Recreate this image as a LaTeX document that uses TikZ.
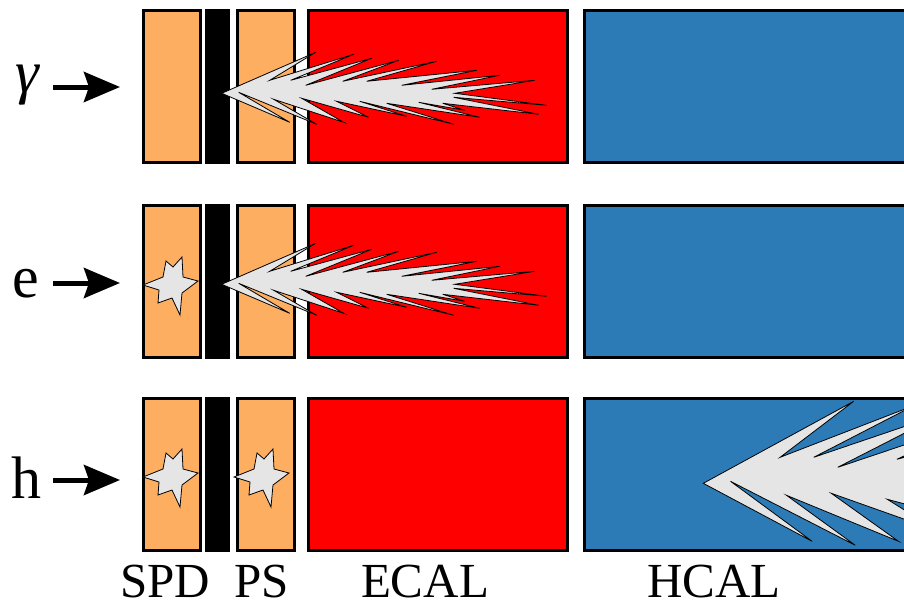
\documentclass[tikz,border=0pt]{standalone}
\usepackage{fontspec}
\setmainfont{Liberation Serif}
\usetikzlibrary{arrows.meta,positioning}

\definecolor{padorange}{HTML}{FDAE61}
\definecolor{hcalblue}{HTML}{2C7BB6}

\begin{document}
\begin{tikzpicture}[
    x=1pt, y=-1pt,
    det/.style={rectangle, draw, line width=3pt, inner sep=0pt, minimum height=152pt},
    pad/.style={det, fill=padorange, minimum width=57pt},
    lead/.style={rectangle, fill=black, inner sep=0pt, minimum width=25pt, minimum height=155pt},
    ecal/.style={det, fill=red, minimum width=259pt},
    hcal/.style={det, fill=hcalblue, minimum width=340pt},
    particle/.style={font=\fontsize{60}{60}\selectfont, inner sep=0pt},
    detname/.style={font=\fontsize{49}{49}\selectfont, anchor=base, inner sep=0pt},
    hit/.style={-{Stealth[length=36pt, width=30pt, inset=5pt]}, line width=5pt},
    burst/.style={draw, line width=0.8pt, fill=black!10, line join=miter},
    % cascade, apex at the origin, spikes pointing right
    shower/.pic={
        \path[burst] (0,0)
            -- (94,-41) -- (48,-13) -- (132,-39) -- (69,-13) -- (150,-35) -- (84,-8)
            -- (177,-33) -- (121,-12) -- (215,-32) -- (145,-12) -- (255,-23) -- (180,-8)
            -- (278,-18) -- (210,-4) -- (313,-13) -- (233,0) -- (325,12) -- (232,4)
            -- (317,21) -- (221,10) -- (243,17) -- (197,9) -- (258,24) -- (165,10)
            -- (232,31) -- (138,8) -- (185,23) -- (115,8) -- (147,24) -- (80,5)
            -- (122,29) -- (52,6) -- (95,31) -- (17,-1) -- (68,29) -- cycle;
    },
    % hit in a pad
    spark/.pic={
        \path[burst] (-29,0) -- (-9,-8) -- (-6,-24) -- (1,-18) -- (10,-28) -- (11,-8)
            -- (26,-4) -- (10,8) -- (8,30) -- (0,13) -- (-14,18) -- (-13,5) -- cycle;
    }
]
\useasboundingbox (0,0) rectangle (904,605);
\clip (0,0) rectangle (904,605);

% detector layers, one row per particle
\foreach \r/\y in {1/86, 2/281, 3/474} {
    \node[pad] (spd\r) at (171.5,\y) {};
    \node[lead] (pb\r) at (217.5,\y) {};
    \node[pad] (ps\r) at (265.5,\y) {};
    \node[ecal] (ecal\r) at (438,\y) {};
    \node[hcal] (hcal\r) at (754.5,\y) {};
}

% incoming particles
\node[particle] (gam) at (27,85) {\itshape γ};
\node[particle, anchor=base] (ele) at (26,297) {e};
\node[particle, anchor=base] (had) at (26,498) {h};
\coordinate (gamin) at (120,87);
\coordinate (elein) at (120,283);
\coordinate (hadin) at (120,480);
\draw[hit] (gamin -| 53,0) -- (gamin);
\draw[hit] (elein -| 53,0) -- (elein);
\draw[hit] (hadin -| 53,0) -- (hadin);

% showers
\pic at (221.7,93.3) {shower};
\pic at (221.7,284.3) {shower};
\pic[xscale=1.6, yscale=2] at (703.3,483.3) {shower};
\pic at (172,285) {spark};
\pic at (172,477) {spark};
\pic at (263,477) {spark};

% layer names
\node[detname] (spdname) at (165,597) {SPD};
\node[detname] (psname) at (262,597) {PS};
\node[detname] (ecalname) at (425,597) {ECAL};
\node[detname] (hcalname) at (714,597) {HCAL};

\end{tikzpicture}
\end{document}
